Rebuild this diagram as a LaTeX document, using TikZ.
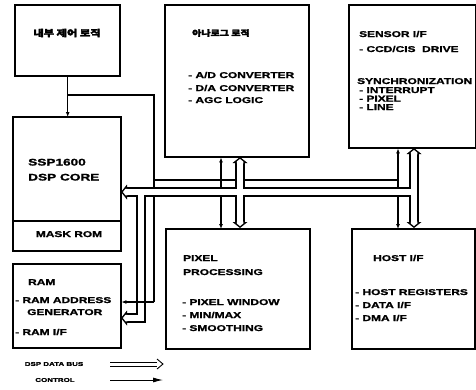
\documentclass[tikz,border=0pt]{standalone}
\usepackage{fontspec}
\setmainfont{Liberation Sans}[FakeStretch=1.42, BoldFeatures={FakeBold=1.5}]
\newfontfamily\kr{Noto Sans CJK KR}[FakeStretch=1.25, BoldFeatures={FakeBold=3}]
\usetikzlibrary{arrows.meta}
\newcommand\bheadB[2]{\fill[black,shift={#1},rotate=#2] (0,0)--(-6,7.5)--(-6,-7.5)--cycle;}
\newcommand\bheadW[2]{\fill[white,shift={#1},rotate=#2] (-1.9,0)--(-4.5,3.25)--(-6.3,3.25)--(-6.3,-3.25)--(-4.5,-3.25)--cycle;}
\tikzset{
  blk/.style={draw, line width=1.4pt, inner sep=0pt, anchor=north west},
  lbl/.style={inner sep=0pt, anchor=west, font=\fontsize{8.4}{9}\selectfont\bfseries, text height=6pt, text depth=0pt},
  big/.style={lbl, font=\fontsize{9.6}{11}\selectfont\bfseries, text height=7pt},
  kor/.style={inner sep=0pt, font=\kr\fontsize{9}{10}\selectfont\bfseries},
  lgd/.style={inner sep=0pt, font=\fontsize{5.6}{7}\selectfont\bfseries},
  ctrl/.style={line width=1.2pt},
  tipc/.style={-{Latex[length=5pt,width=4pt]}},
  busB/.style={line width=9.5pt, black, line cap=butt, line join=miter},
  busW/.style={line width=6.5pt, white, line cap=butt, line join=miter},
}
\begin{document}
\begin{tikzpicture}[x=1pt,y=-1pt]
\useasboundingbox (0,0) rectangle (476,389);
% boxes
\node[blk, minimum width=104pt, minimum height=70pt] (ctl) at (15,5) {};
\node[blk, minimum width=107pt, minimum height=133pt] (dsp) at (13,117) {};
\node[blk, minimum width=143pt, minimum height=151pt] (ana) at (165,5) {};
\node[blk, minimum width=126pt, minimum height=142pt] (sen) at (349,5) {};
\node[blk, minimum width=143pt, minimum height=119pt] (pix) at (166,229) {};
\node[blk, minimum width=122pt, minimum height=119pt] (host) at (352,229) {};
\node[blk, minimum width=107pt, minimum height=83pt] (ram) at (13,264) {};
\coordinate (dv) at (0,221);
\draw[line width=1.2pt] (dsp.west |- dv) -- (dsp.east |- dv);

% control lines
\coordinate (j1) at (67,95);
\coordinate (k1) at (154,95);
\coordinate (k2) at (154,180);
\coordinate (k3) at (154,302);
\coordinate (m1) at (221,180);
\coordinate (s1) at (398,180);
\draw[ctrl,tipc] (ctl.south) -- (ctl.south |- dsp.north);
\draw[ctrl] (j1) -- (k1) -- (k3);
\draw[ctrl] (k2) -- (s1);
\draw[ctrl,tipc] (m1) -- (m1 |- ana.south);
\draw[ctrl,tipc] (m1) -- (m1 |- pix.north);
\draw[ctrl,tipc] (s1) -- (s1 |- sen.south);
\draw[ctrl,tipc] (s1) -- (s1 |- host.north);

% data bus
\coordinate (hT) at (121,192);
\coordinate (hS) at (127,192);
\coordinate (hE) at (414,192);
\coordinate (lA) at (141,192);
\coordinate (lC) at (141,318);
\coordinate (lS) at (127,318);
\coordinate (lT) at (121,318);
\coordinate (mT) at (240,157);
\coordinate (mS) at (240,163);
\coordinate (mE) at (240,222);
\coordinate (mB) at (240,228);
\coordinate (rT) at (414,148);
\coordinate (rS) at (414,154);
\coordinate (rE) at (414,222);
\coordinate (rB) at (414,228);
\draw[busB] (hS) -- (hE);
\draw[busB] (lA) -- (lC) -- (lS);
\draw[busB] (mS) -- (mE);
\draw[busB] (rS) -- (rE);
\bheadB{(hT)}{180}\bheadB{(lT)}{180}
\bheadB{(mT)}{90}\bheadB{(mB)}{-90}
\bheadB{(rT)}{90}\bheadB{(rB)}{-90}
\draw[busW] (hS) -- (hE);
\draw[busW] (lA) -- (lC) -- (lS);
\draw[busW] (mS) -- (mE);
\draw[busW] (rS) -- (rE);
\bheadW{(hT)}{180}\bheadW{(lT)}{180}
\bheadW{(mT)}{90}\bheadW{(mB)}{-90}
\bheadW{(rT)}{90}\bheadW{(rB)}{-90}

% control into RAM over the bus
\draw[ctrl,tipc] (k3) -- (ram.east |- k3);

% redraw box borders on top
\foreach \b in {ctl,dsp,ana,sen,pix,host,ram}
  \draw[line width=1.4pt] (\b.north west) rectangle (\b.south east);

% texts
\node[kor] (tctl) at (67,33) {내부 제어 로직};
\node[kor, anchor=west, font=\kr\fontsize{8}{9}\selectfont\bfseries] (tana) at (192,33) {아나로그 로직};
\node[lbl] (a1) at (188,75) {- A/D CONVERTER};
\node[lbl] (a2) at (188,88) {- D/A CONVERTER};
\node[lbl] (a3) at (188,100) {- AGC LOGIC};

\node[lbl] (s1t) at (359,34) {SENSOR I/F};
\node[lbl] (s2t) at (359,49) {- CCD/CIS\ \ DRIVE};
\node[lbl] (s3t) at (357,81) {SYNCHRONIZATION};
\node[lbl] (s4t) at (359,90) {- INTERRUPT};
\node[lbl] (s5t) at (359,98.5) {- PIXEL};
\node[lbl] (s6t) at (359,107) {- LINE};

\node[big] (d1) at (28,162) {SSP1600};
\node[big] (d2) at (28,177) {DSP CORE};
\node[lbl, anchor=center] (d3) at (69,234) {MASK ROM};

\node[lbl] (p1) at (183,258) {PIXEL};
\node[lbl] (p2) at (183,272) {PROCESSING};
\node[lbl] (p3) at (182,302) {- PIXEL WINDOW};
\node[lbl] (p4) at (182,315) {- MIN/MAX};
\node[lbl] (p5) at (182,328) {- SMOOTHING};

\node[lbl] (h1) at (373,258) {HOST I/F};
\node[lbl] (h2) at (355,292) {- HOST REGISTERS};
\node[lbl] (h3) at (355,305) {- DATA I/F};
\node[lbl] (h4) at (355,318) {- DMA I/F};

\node[lbl] (r1) at (28,282) {RAM};
\node[lbl] (r2) at (15,300) {- RAM ADDRESS};
\node[lbl] (r3) at (27,312) {GENERATOR};
\node[lbl] (r4) at (15,332) {- RAM I/F};

% legend
\node[lgd] (lg1) at (54,364) {DSP DATA BUS};
\node[lgd] (lg2) at (55,380) {CONTROL};
\coordinate (la) at (110,364);
\coordinate (lb) at (157,364);
\coordinate (lc) at (163,364);
\draw[line width=0.9pt] ([yshift=-2pt]la) -- ([yshift=-2pt]lb) ([yshift=2pt]la) -- ([yshift=2pt]lb);
\draw[line width=0.9pt] ([shift={(-6,-5)}]lc) -- (lc) -- ([shift={(-6,5)}]lc);
\coordinate (ld) at (110,380);
\coordinate (le) at (163,380);
\draw[line width=0.9pt,-{Latex[length=10pt,width=5pt]}] (ld) -- (le);
\end{tikzpicture}
\end{document}
